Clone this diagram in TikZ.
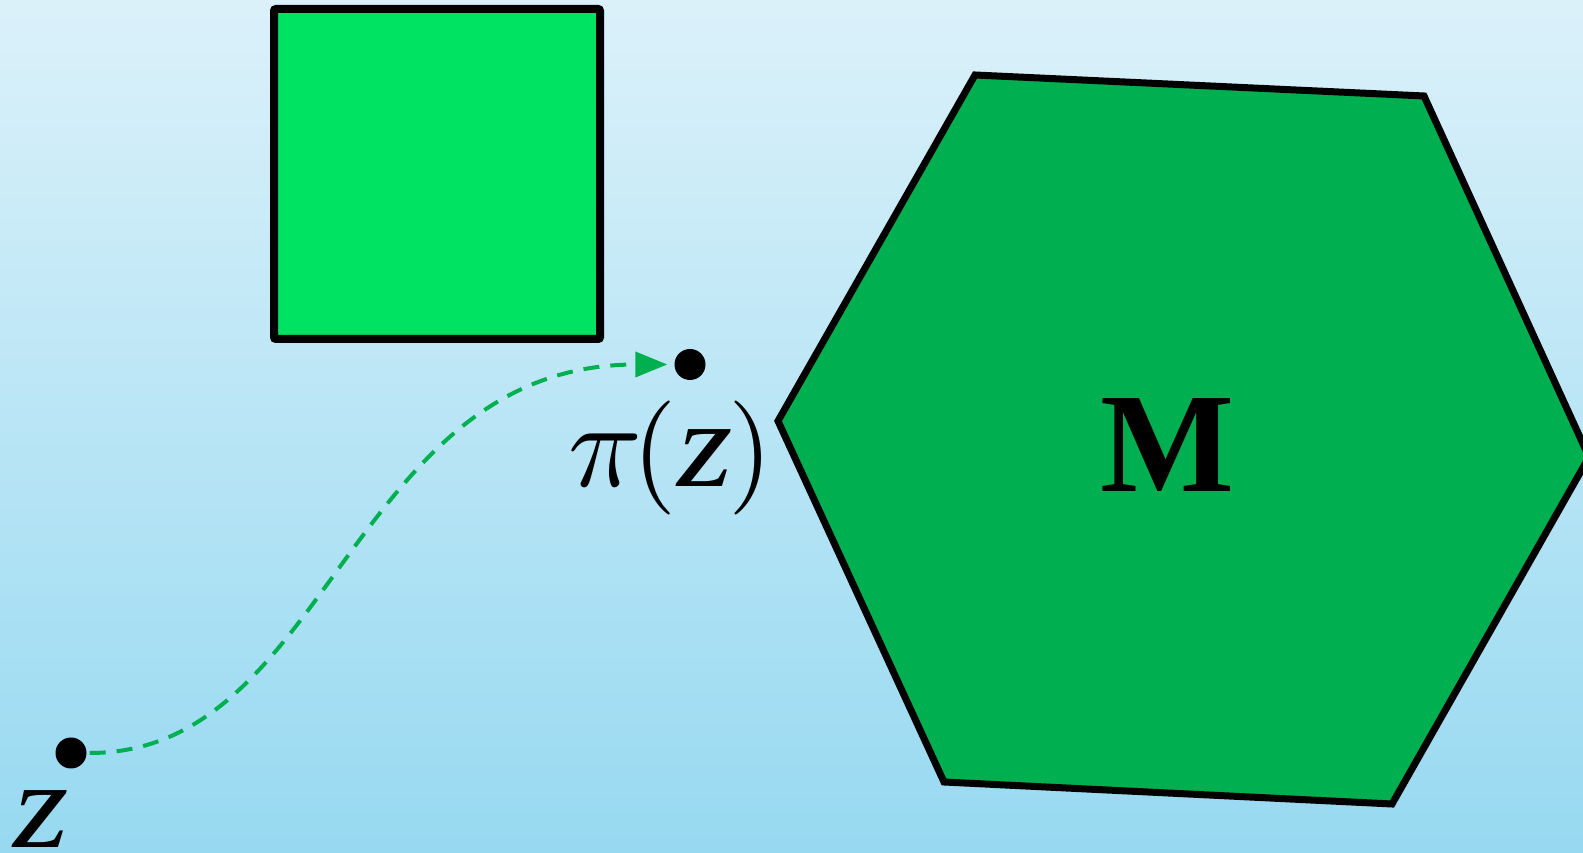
\documentclass[tikz,border=0pt]{standalone}
\usepackage{graphicx}
\usepackage{fontspec}
\setmainfont{Liberation Serif}
\usetikzlibrary{arrows.meta}
\definecolor{bgtop}{RGB}{219,241,250}
\definecolor{bgbot}{RGB}{151,217,241}
\definecolor{sqgreen}{RGB}{0,226,98}
\definecolor{hexgreen}{RGB}{0,175,80}
\definecolor{flowgreen}{RGB}{0,176,80}
\newcommand{\bigz}{\scalebox{1.15}[1]{\fontsize{124}{130}\selectfont\itshape z}}
\tikzset{
  dotnode/.style={circle,fill=black,minimum size=31pt,inner sep=0pt},
  sqbox/.style={draw=black,line width=8pt,fill=sqgreen,rounded corners=2pt,minimum width=326pt,minimum height=330pt,inner sep=0pt},
  hexshape/.style={draw=black,line width=7pt,fill=hexgreen,line join=miter},
  flow/.style={draw=flowgreen,line width=4pt,dash pattern=on 16pt off 11pt,-{Triangle[length=32pt,width=25pt]}},
  lbl/.style={inner sep=0pt,text=black}
}
\begin{document}
\begin{tikzpicture}[x=1pt,y=1pt]
\shade[top color=bgtop,bottom color=bgbot] (0,0) rectangle (1583,853);
\useasboundingbox (0,0) rectangle (1583,853);
% square
\node[sqbox] (box) at (437,679) {};
% hexagon
\coordinate (h1) at (778,432);
\coordinate (h2) at (975,778);
\coordinate (h3) at (1424,757);
\coordinate (h4) at (1589,396);
\coordinate (h5) at (1392,49);
\coordinate (h6) at (944,71);
\path[hexshape] (h1) -- (h2) -- (h3) -- (h4) -- (h5) -- (h6) -- cycle;
\node[lbl] (M) at (1167.5,407.5) {\fontsize{142}{150}\selectfont\bfseries M};
% dots
\node[dotnode] (zdot) at (71,100) {};
\node[dotnode] (pidot) at (690,488.5) {};
\node[lbl] (zlbl) at (41,34) {\bigz};
\node[lbl] (pilbl) at (671,395) {\scalebox{12.2}{$\pi$}\kern-10pt\scalebox{11.4}{$($}\bigz\kern-4pt\scalebox{11.4}{$)$}};
% dashed connector
\draw[flow,shorten <=3pt,shorten >=7pt] (zdot.east) .. controls +(244,0) and +(-325,0) .. (pidot.west);
\end{tikzpicture}
\end{document}
